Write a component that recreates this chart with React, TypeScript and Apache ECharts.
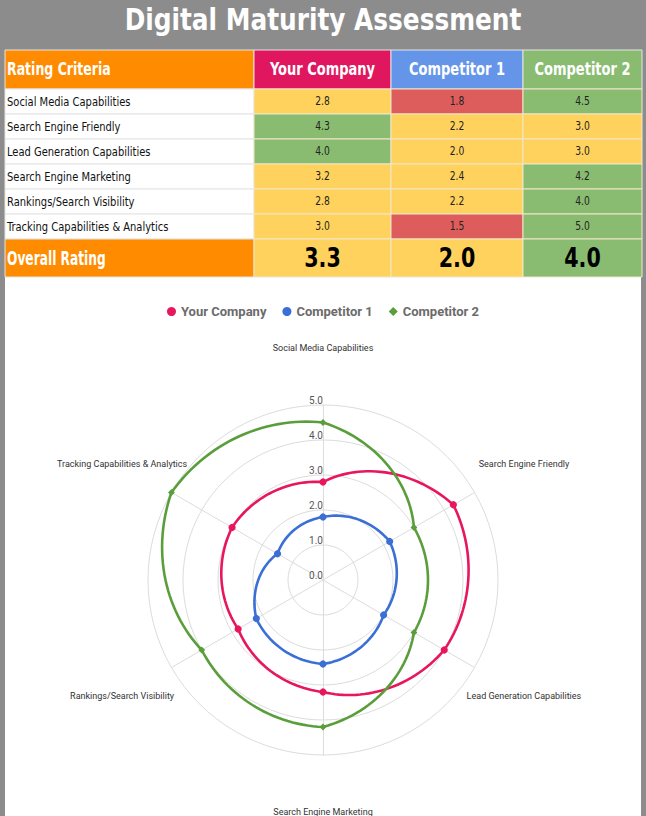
import React, { useEffect, useRef } from 'react';
import * as echarts from 'echarts';

// ---------- data ----------
const criteria = [
  'Social Media Capabilities',
  'Search Engine Friendly',
  'Lead Generation Capabilities',
  'Search Engine Marketing',
  'Rankings/Search Visibility',
  'Tracking Capabilities & Analytics',
];
const companies = ['Your Company', 'Competitor 1', 'Competitor 2'];
const yourCompany = [2.8, 4.3, 4.0, 3.2, 2.8, 3.0];
const competitor1 = [1.8, 2.2, 2.0, 2.4, 2.2, 1.5];
const competitor2 = [4.5, 3.0, 3.0, 4.2, 4.0, 5.0];
const overallRatings = [3.3, 2.0, 4.0];
const scaleMax = 5;
const titleText = 'Digital Maturity Assessment';
const headerFirst = 'Rating Criteria';
const overallLabel = 'Overall Rating';

// ---------- styles ----------
const COND = "'Liberation Sans Narrow', 'DejaVu Sans Condensed', 'Roboto', sans-serif";
const seriesColors = ['#e8175d', '#3b6fd6', '#5a9e3c'];
const seriesSymbols = ['circle', 'circle', 'diamond'];
const headerColors = ['#ff8c00', '#e0175f', '#6495e8', '#89bc71'];
const cellRed = '#dd5d5d';
const cellYellow = '#ffd25e';
const cellGreen = '#89bc71';
const cellColor = (v: number) => (v < 2 ? cellRed : v < 4 ? cellYellow : cellGreen);

const colX = [5, 254, 391, 523, 642];
const headerTop = 50;
const headerH = 39;
const rowH = 25;
const overallH = 38;
const CX = 323;
const CY = 580;
const R = 175;

function txt(x: number, y: number, text: string, font: string, fill: string, align: string, sx: number) {
  return {
    type: 'text',
    x,
    y,
    scaleX: sx,
    style: { text, fill, font, align, verticalAlign: 'middle' },
  };
}

function buildTable(): any[] {
  const els: any[] = [];
  const allSeries = [yourCompany, competitor1, competitor2];
  const stroke = '#e4e4e4';
  els.push(txt(CX, 19, titleText, `bold 31px ${COND}`, '#fff', 'center', 0.89));
  // header
  for (let c = 0; c < 4; c++) {
    els.push({
      type: 'rect',
      shape: { x: colX[c], y: headerTop, width: colX[c + 1] - colX[c], height: headerH },
      style: { fill: headerColors[c], stroke, lineWidth: 1 },
    });
    const label = c === 0 ? headerFirst : companies[c - 1];
    els.push(
      txt(
        c === 0 ? colX[0] + 2 : (colX[c] + colX[c + 1]) / 2,
        headerTop + headerH / 2,
        label,
        `bold 17px ${COND}`,
        '#fff',
        c === 0 ? 'left' : 'center',
        c === 0 ? 0.82 : 0.85
      )
    );
  }
  // rows
  criteria.forEach((name, r) => {
    const y = headerTop + headerH + r * rowH;
    els.push({
      type: 'rect',
      shape: { x: colX[0], y, width: colX[1] - colX[0], height: rowH },
      style: { fill: '#fff', stroke, lineWidth: 1 },
    });
    els.push(txt(colX[0] + 2, y + rowH / 2, name, `13px ${COND}`, '#111', 'left', 0.85));
    allSeries.forEach((vals, c) => {
      const v = vals[r];
      els.push({
        type: 'rect',
        shape: { x: colX[c + 1], y, width: colX[c + 2] - colX[c + 1], height: rowH },
        style: { fill: cellColor(v), stroke: '#f0e6c8', lineWidth: 1 },
      });
      els.push(
        txt((colX[c + 1] + colX[c + 2]) / 2, y + rowH / 2, v.toFixed(1), `12px ${COND}`, '#222', 'center', 0.85)
      );
    });
  });
  // overall
  const oy = headerTop + headerH + criteria.length * rowH;
  els.push({
    type: 'rect',
    shape: { x: colX[0], y: oy, width: colX[1] - colX[0], height: overallH },
    style: { fill: headerColors[0], stroke, lineWidth: 1 },
  });
  els.push(txt(colX[0] + 2, oy + overallH / 2, overallLabel, `bold 20px ${COND}`, '#fff', 'left', 0.68));
  overallRatings.forEach((v, c) => {
    els.push({
      type: 'rect',
      shape: { x: colX[c + 1], y: oy, width: colX[c + 2] - colX[c + 1], height: overallH },
      style: { fill: cellColor(v), stroke: '#f0e6c8', lineWidth: 1 },
    });
    els.push(
      txt((colX[c + 1] + colX[c + 2]) / 2, oy + overallH / 2, v.toFixed(1), `bold 27px ${COND}`, '#000', 'center', 0.85)
    );
  });
  return els;
}

function makeSeries(name: string, values: number[], color: string, symbol: string) {
  const n = values.length;
  const step = 360 / n;
  return {
    type: 'custom',
    name,
    coordinateSystem: 'polar',
    itemStyle: { color },
    data: values.map((v, i) => [v, i, values[(i + 1) % n], i + 1]),
    renderItem: (params: any, api: any) => {
      const r0 = api.value(0);
      const i0 = api.value(1);
      const r1 = api.value(2);
      const i1 = api.value(3);
      const pts: number[][] = [];
      const N = 30;
      for (let k = 0; k <= N; k++) {
        const t = k / N;
        const p = api.coord([r0 + (r1 - r0) * t, (i0 + (i1 - i0) * t) * step]);
        pts.push([p[0], p[1]]);
      }
      const c = api.coord([r0, i0 * step]);
      const s = symbol === 'circle' ? 3.6 : 3.4;
      const marker =
        symbol === 'circle'
          ? { type: 'circle', shape: { cx: c[0], cy: c[1], r: s }, style: { fill: color }, z2: 10 }
          : {
              type: 'polygon',
              shape: { points: [[c[0], c[1] - s], [c[0] + s, c[1]], [c[0], c[1] + s], [c[0] - s, c[1]]] },
              style: { fill: color },
              z2: 10,
            };
      return {
        type: 'group',
        children: [
          { type: 'polyline', shape: { points: pts }, style: { stroke: color, lineWidth: 2.6, fill: 'none' } },
          marker,
        ],
      };
    },
  };
}

export default function App() {
  const ref = useRef<HTMLDivElement>(null);
  useEffect(() => {
    if (!ref.current) return;
    const chart = echarts.init(ref.current, undefined, { renderer: 'svg' });
    // radar indicators run counter-clockwise in ECharts; reorder so the drawing goes clockwise
    const order = [0, ...criteria.map((_, i) => i).slice(1).reverse()];
    const indicator = order.map((idx, k) => ({
      name: criteria[idx],
      max: scaleMax,
      min: 0,
      ...(k === 0
        ? {
            axisLabel: {
              show: true,
              formatter: (v: number) => Number(v).toFixed(1),
              color: '#555',
              fontSize: 10,
              fontFamily: 'Roboto',
              align: 'center',
              verticalAlign: 'bottom',
              margin: 7,
            },
          }
        : {}),
    }));
    const allSeries = [yourCompany, competitor1, competitor2];
    chart.setOption({
      animation: false,
      backgroundColor: 'transparent',
      legend: {
        top: 300,
        left: 'center',
        itemWidth: 9,
        itemHeight: 9,
        itemGap: 16,
        textStyle: { color: '#6b6b6b', fontWeight: 'bold', fontSize: 13, fontFamily: 'Roboto' },
        data: companies.map((c, i) => ({ name: c, icon: seriesSymbols[i] })),
      },
      radar: {
        center: [CX, CY],
        radius: R,
        shape: 'circle',
        splitNumber: 5,
        axisNameGap: 57,
        axisName: { color: '#333', fontSize: 9, fontFamily: 'Roboto', align: 'center', verticalAlign: 'middle' },
        axisLine: { lineStyle: { color: '#dcdcdc' } },
        splitLine: { lineStyle: { color: '#dcdcdc' } },
        splitArea: { show: false },
        indicator,
      },
      polar: { center: [CX, CY], radius: R },
      angleAxis: { type: 'value', min: 0, max: 360, startAngle: 90, clockwise: true, show: false },
      radiusAxis: { type: 'value', min: 0, max: scaleMax, show: false },
      series: companies.map((c, i) => makeSeries(c, allSeries[i], seriesColors[i], seriesSymbols[i])),
      graphic: buildTable(),
    });
    return () => chart.dispose();
  }, []);
  return (
    <div style={{ position: 'fixed', left: 0, top: 0, width: 646, height: 816, background: '#8c8c8c' }}>
      <div style={{ position: 'absolute', left: 5, top: 277, width: 636, height: 539, background: '#fff' }} />
      <div ref={ref} style={{ position: 'absolute', left: 0, top: 0, width: 646, height: 816 }} />
    </div>
  );
}
